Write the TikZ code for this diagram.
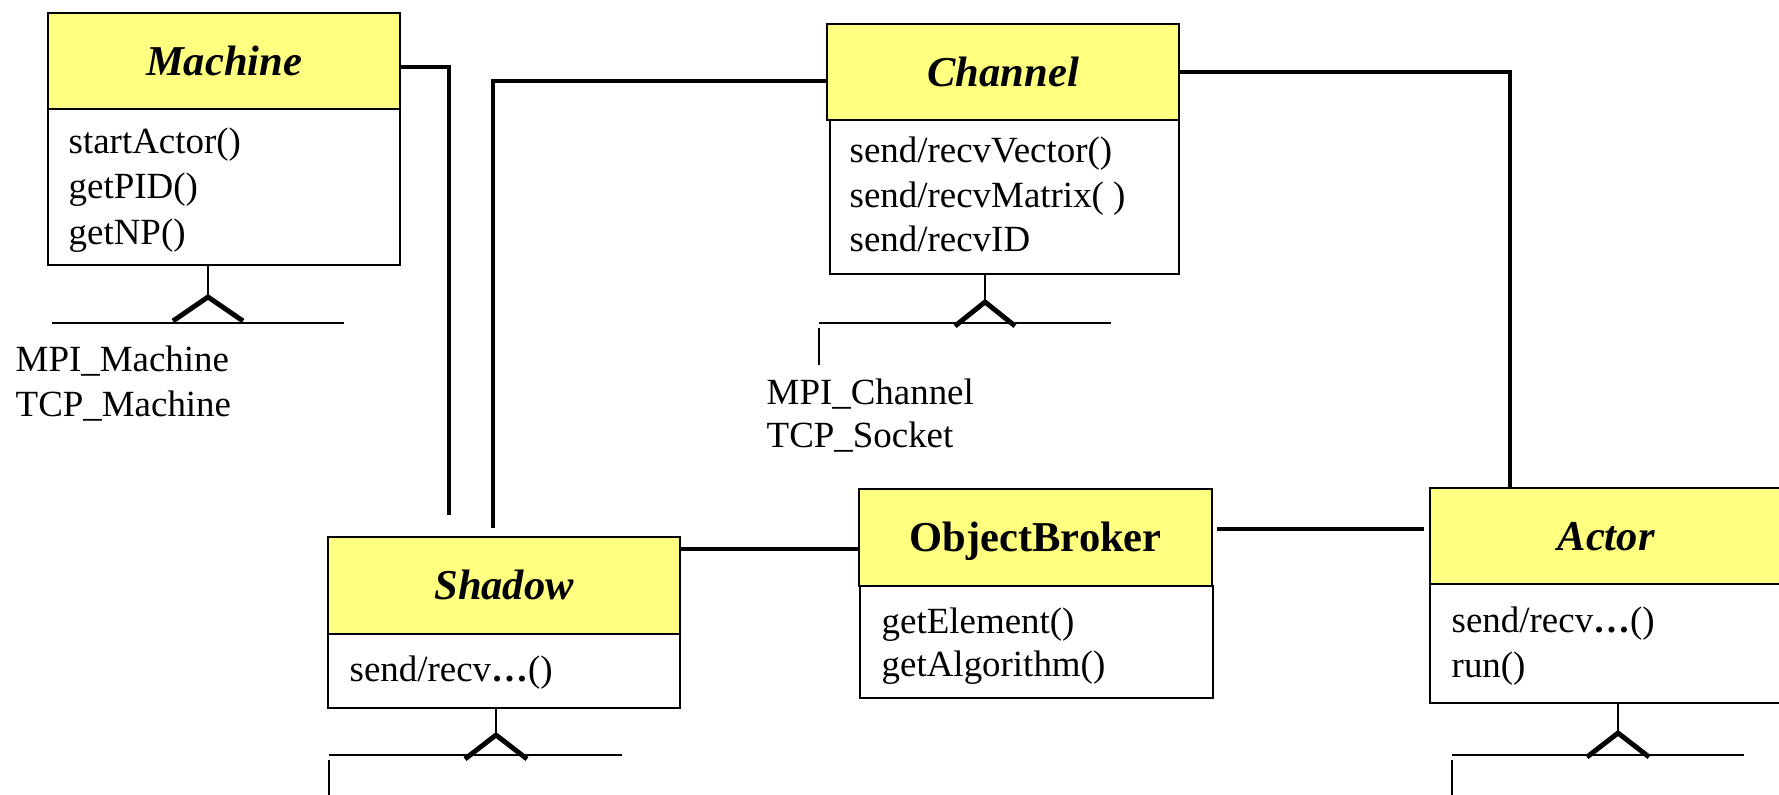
\documentclass[tikz,border=0pt]{standalone}
\usepackage{fontspec}
\setmainfont{Liberation Serif}
\definecolor{classyellow}{RGB}{255,255,128}

% inheritance fork below a class: stem, "^" hook and the rail
% #1 class body node, #2 stem x, #3 hook top y, #4 hook half width, #5 rail y, #6 rail left x, #7 rail right x
\newcommand\genfork[7]{%
  \draw[stem] (#2,0 |- #1.south) -- (#2,#3);
  \draw[hook] (#2-#4,#3+24) -- (#2,#3) -- (#2+#4,#3+24);
  \draw[rail] (#6,#5) -- (#7,#5);
}

\begin{document}
\begin{tikzpicture}[x=0.01cm,y=-0.01cm,
  header/.style={draw, line width=0.6pt, fill=classyellow, anchor=north west,
    inner sep=0pt, minimum width=3.52cm, minimum height=0.96cm,
    text height=0.3cm, text depth=0.02cm,
    font=\fontsize{12.1}{14}\selectfont\bfseries\itshape},
  body/.style={draw, line width=0.6pt, fill=white, anchor=north west,
    inner sep=0pt, minimum width=3.52cm},
  op/.style={anchor=base west, inner sep=0pt, font=\fontsize{10.5}{12}\selectfont},
  subclass/.style={anchor=base west, inner sep=0pt, font=\fontsize{10.5}{12}\selectfont},
  link/.style={line width=1pt},
  stem/.style={line width=0.45pt},
  hook/.style={line width=1.4pt},
  rail/.style={line width=0.45pt}
]
\useasboundingbox (0,0) rectangle (1779,795);

% ---- Machine
\node[header] (machine) at (47,12) {Machine};
\node[body, minimum height=1.56cm] (machineBody) at (47,108) {};
\node[op] (machineOp1) at (68,154) {startActor()};
\node[op] (machineOp2) at (68,199) {getPID()};
\node[op] (machineOp3) at (68,245) {getNP()};
\genfork{machineBody}{208}{297}{35}{323}{52}{344}
\node[subclass] (mpiMachine) at (15,372) {MPI\_Machine};
\node[subclass] (tcpMachine) at (15,417) {TCP\_Machine};

% ---- Channel
\node[header] (channel) at (826,23) {Channel};
\node[body, minimum width=3.49cm, minimum height=1.54cm] (channelBody) at (829,119) {};
\node[op] (channelOp1) at (849,163) {send/recvVector()};
\node[op] (channelOp2) at (849,208) {send/recvMatrix( )};
\node[op] (channelOp3) at (849,252) {send/recvID};
\genfork{channelBody}{985}{302}{30}{323}{819}{1111}
\draw[rail] (819,328) -- (819,365);
\node[subclass] (mpiChannel) at (766,405) {MPI\_Channel};
\node[subclass] (tcpSocket) at (766,448) {TCP\_Socket};

% ---- Shadow
\node[header, minimum height=0.97cm] (shadow) at (327,536) {Shadow};
\node[body, minimum height=0.74cm] (shadowBody) at (327,633) {};
\node[op] (shadowOp1) at (349,682) {send/recv\textbf{…}()};
\genfork{shadowBody}{496}{735}{31}{755}{329}{622}
\draw[rail] (329,760) -- (329,795);

% ---- ObjectBroker
\node[header, minimum width=3.53cm, minimum height=0.97cm, font=\fontsize{12.1}{14}\selectfont\bfseries] (broker) at (858,488) {ObjectBroker};
\node[body, minimum width=3.53cm, minimum height=1.12cm] (brokerBody) at (859,585) {};
\node[op] (brokerOp1) at (881,634) {getElement()};
\node[op] (brokerOp2) at (881,677) {getAlgorithm()};

% ---- Actor
\node[header] (actor) at (1429,487) {Actor};
\node[body, minimum height=1.19cm] (actorBody) at (1429,583) {};
\node[op] (actorOp1) at (1451,633) {send/recv\textbf{…}()};
\node[op] (actorOp2) at (1451,678) {run()};
\genfork{actorBody}{1618}{733}{31}{755}{1452}{1744}
\draw[rail] (1452,760) -- (1452,795);

% ---- associations
\coordinate (machineLinkEnd) at (449,515);
\draw[link] ([yshift=-0.06cm]machine.east) -| (machineLinkEnd);
\coordinate (channelLinkEnd) at (493,528);
\draw[link] ([yshift=-0.09cm]channel.west) -| (channelLinkEnd);
\draw[link] (channel.east) -| ([xshift=-0.96cm]actor.north);
\coordinate (sbLevel) at (0,549);
\draw[link] (shadow.east |- sbLevel) -- (broker.west |- sbLevel);
\coordinate (baLeft) at (1217,529);
\coordinate (baRight) at (1424,529);
\draw[link] (baLeft) -- (baRight);
\end{tikzpicture}
\end{document}
